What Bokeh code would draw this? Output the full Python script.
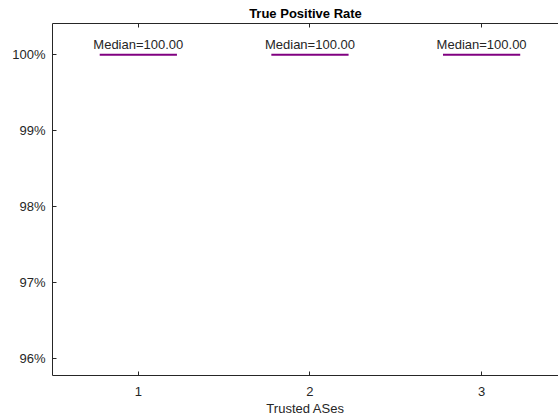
from bokeh.plotting import figure
from bokeh.models import Range1d, LinearAxis, FixedTicker, CustomJSTickFormatter, ColumnDataSource
from bokeh.core.properties import value
from bokeh.embed import file_html
from bokeh.resources import INLINE

# Data
categories = [1, 2, 3]
medians = [100.0, 100.0, 100.0]
y_ticks = [96, 97, 98, 99, 100]
y_tick_labels = ["96%", "97%", "98%", "99%", "100%"]
title_text = "True Positive Rate"
x_label = "Trusted ASes"

FONT = "Liberation Sans"
TXT = "#262626"
half_w = 0.225

src = ColumnDataSource(dict(
    x=categories,
    y=medians,
    x0=[c - half_w for c in categories],
    x1=[c + half_w for c in categories],
    label=[f"Median={m:.2f}" for m in medians],
))

p = figure(width=558, height=418, output_backend="svg", toolbar_location=None,
           x_range=Range1d(0.5, 3.448), y_range=Range1d(95.78, 100.41),
           min_border_left=52, min_border_right=0, min_border_top=23, min_border_bottom=43)

p.outline_line_color = None
p.grid.visible = False
p.background_fill_color = "white"
p.border_fill_color = "white"

p.title.text = title_text
p.title.align = "center"
p.title.text_font = FONT
p.title.text_font_size = "13px"
p.title.text_font_style = "bold"
p.title.text_color = "black"
p.title.standoff = 6

# x axis
xa = p.xaxis[0]
xa.ticker = FixedTicker(ticks=categories)
xa.axis_label = x_label
xa.axis_label_text_font = FONT
xa.axis_label_text_font_size = "13px"
xa.axis_label_text_font_style = "normal"
xa.axis_label_text_color = TXT
xa.axis_label_standoff = 2
xa.major_label_text_font = FONT
xa.major_label_text_font_size = "13px"
xa.major_label_text_color = TXT
xa.major_label_standoff = 11
xa.major_tick_in = 4
xa.major_tick_out = 0
xa.minor_tick_line_color = None
xa.axis_line_color = TXT
xa.major_tick_line_color = TXT

ya = p.yaxis[0]
ya.ticker = FixedTicker(ticks=y_ticks)
ya.major_label_overrides = {t: l for t, l in zip(y_ticks, y_tick_labels)}
ya.major_label_text_font = FONT
ya.major_label_text_font_size = "13px"
ya.major_label_text_color = TXT
ya.major_label_standoff = 7
ya.major_tick_in = 4
ya.major_tick_out = 0
ya.minor_tick_line_color = None
ya.axis_line_color = TXT
ya.major_tick_line_color = TXT

top = LinearAxis(ticker=FixedTicker(ticks=categories),
                 formatter=CustomJSTickFormatter(code="return '';"))
top.major_tick_in = 4
top.major_tick_out = 0
top.major_label_standoff = 0
top.major_label_text_font_size = "0px"
top.minor_tick_line_color = None
top.axis_line_color = TXT
top.major_tick_line_color = TXT
p.add_layout(top, "above")

p.segment(x0="x0", y0="y", x1="x1", y1="y", source=src,
          line_color="#800080", line_width=2)
p.text(x="x", y="y", text="label", source=src, text_align="center",
       text_baseline="bottom", y_offset=-3, text_font=value(FONT),
       text_font_size="13px", text_color=TXT)

open("out.html", "w").write(file_html(p, INLINE))
